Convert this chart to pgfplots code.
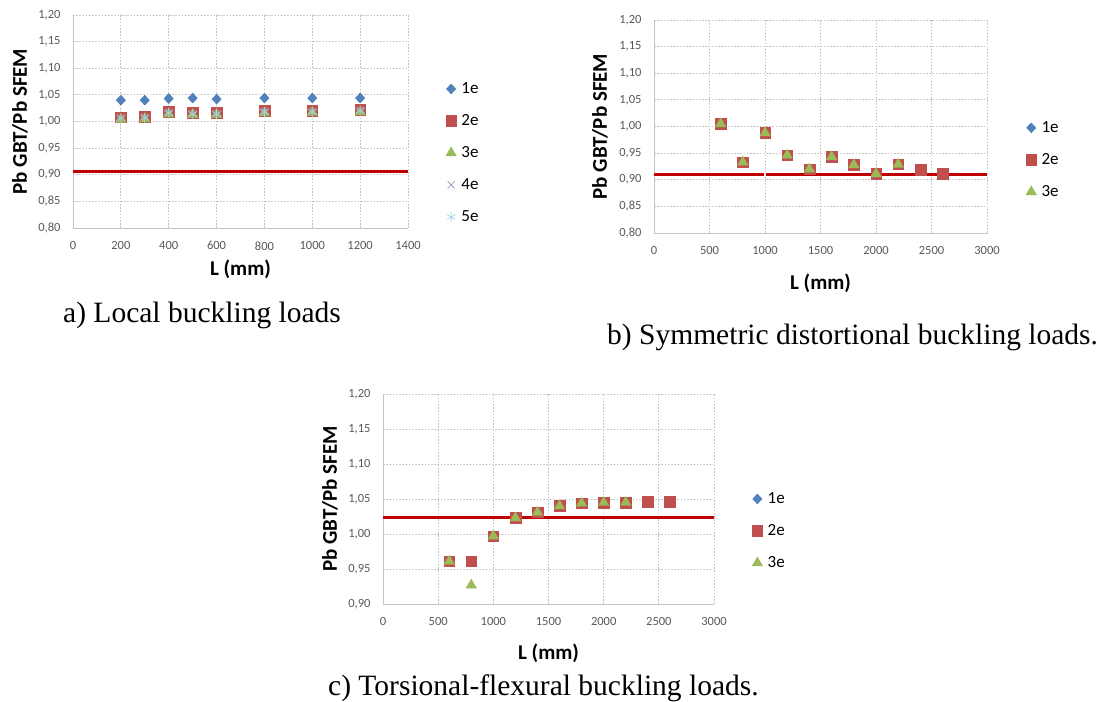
\documentclass[border=0pt]{standalone}
\usepackage{fontspec}
\setmainfont{Carlito}
\newfontfamily\capfont{Liberation Serif}
\usepackage{pgfplots}
\pgfplotsset{compat=1.18}
\definecolor{s1}{HTML}{4F81BD}
\definecolor{s2}{HTML}{C0504D}
\definecolor{s3}{HTML}{9BBB59}
\definecolor{s4}{HTML}{A99BC4}
\definecolor{s5}{HTML}{9ED6E6}
\definecolor{refred}{HTML}{C00000}
\definecolor{gridc}{HTML}{C4C4C4}
\definecolor{tickc}{HTML}{595959}

\pgfplotsset{
  panel/.style={
    scale only axis,
    axis x line*=bottom, axis y line*=left,
    axis line style={draw=gridc, line width=0.9bp},
    grid=major,
    major grid style={draw=gridc, line width=0.8bp, dash pattern=on 1.6bp off 1.6bp},
    major tick length=0pt,
    tick label style={font=\fontsize{12.5bp}{14bp}\selectfont, text=tickc},
    /pgf/number format/assume math mode=true,
    yticklabel style={/pgf/number format/fixed, /pgf/number format/fixed zerofill, /pgf/number format/precision=2, /pgf/number format/use comma, xshift=-9bp},
    xticklabel style={/pgf/number format/1000 sep={}, yshift=-10bp},
    label style={font=\bfseries\fontsize{21bp}{24bp}\selectfont},
    ylabel={Pb GBT/Pb SFEM},
    xlabel={L (mm)},
    legend cell align=left,
    legend image code/.code={\draw[mark repeat=2,mark phase=2,##1] plot coordinates {(0bp,0bp)(6bp,0bp)(12bp,0bp)};},
    legend style={draw=none, fill=none, inner sep=0pt, outer sep=0pt, anchor=north west,
      row sep=17bp, column sep=5bp, font=\fontsize{17bp}{20bp}\selectfont,
      nodes={inner sep=0pt, text height=12bp, text depth=3bp}},
  },
  m1/.style={only marks, mark=diamond*, mark size=5bp, mark options={draw=s1, fill=s1, xscale=1.25}},
  m2/.style={only marks, mark=square*, mark size=5.3bp, mark options={draw=s2, fill=s2}},
  m3/.style={only marks, mark=triangle*, mark size=6bp, mark options={draw=s3, fill=s3}},
  m4/.style={only marks, mark=x, mark size=5bp, mark options={draw=s4, line width=0.8bp}},
  m5/.style={only marks, mark=asterisk, mark size=5bp, mark options={draw=s5, line width=0.7bp}},
  refline/.style={refred, line width=3bp, no marks, forget plot},
}

\begin{document}
\begin{tikzpicture}[x=1bp,y=1bp]
\path[use as bounding box] (0,0) rectangle (1097,702);

% ---------------- a) Local ----------------
\begin{axis}[panel, at={(73bp,474bp)}, anchor=south west,
  width=335bp, height=213bp,
  xmin=0, xmax=1400, ymin=0.80, ymax=1.20,
  xtick={0,200,400,600,800,1000,1200,1400},
  ytick={0.80,0.85,0.90,0.95,1.00,1.05,1.10,1.15,1.20},
  xlabel style={at={(axis description cs:0.5,-0.192)}, anchor=center},
  ylabel style={at={(axis description cs:-0.158,0.5)}, anchor=center},
  legend style={at={(axis description cs:1.113,0.688)}},
]
\addplot[refline] coordinates {(0,0.907) (1400,0.907)};
\addplot[m1] coordinates {(200,1.040) (300,1.040) (400,1.043) (500,1.044) (600,1.042) (800,1.044) (1000,1.044) (1200,1.044)};
\addplot[m2] coordinates {(200,1.008) (300,1.009) (400,1.018) (500,1.016) (600,1.016) (800,1.020) (1000,1.020) (1200,1.022)};
\addplot[m3] coordinates {(200,1.004) (300,1.005) (400,1.014) (500,1.013) (600,1.013) (800,1.016) (1000,1.017) (1200,1.018)};
\addplot[m4] coordinates {(200,1.007) (300,1.008) (400,1.017) (500,1.015) (600,1.015) (800,1.019) (1000,1.019) (1200,1.021)};
\addplot[m5] coordinates {(200,1.006) (300,1.007) (400,1.016) (500,1.014) (600,1.014) (800,1.018) (1000,1.018) (1200,1.020)};
\legend{1e,2e,3e,4e,5e}
\end{axis}

% ---------------- b) Symmetric distortional ----------------
\begin{axis}[panel, at={(654bp,469bp)}, anchor=south west,
  width=333bp, height=213bp,
  xmin=0, xmax=3000, ymin=0.80, ymax=1.20,
  xtick={0,500,1000,1500,2000,2500,3000},
  ytick={0.80,0.85,0.90,0.95,1.00,1.05,1.10,1.15,1.20},
  xlabel style={at={(axis description cs:0.5,-0.235)}, anchor=center},
  ylabel style={at={(axis description cs:-0.162,0.5)}, anchor=center},
  legend style={at={(axis description cs:1.117,0.529)}},
]
\addplot[refline] coordinates {(0,0.909) (993,0.909)};
\addplot[refline] coordinates {(1010,0.909) (3000,0.909)};
\addplot[m1] coordinates {(600,1.005) (800,0.933) (1000,0.988) (1200,0.946) (1400,0.920) (1600,0.943) (1800,0.928) (2000,0.911) (2200,0.929)};
\addplot[m2] coordinates {(600,1.005) (800,0.933) (1000,0.988) (1200,0.946) (1400,0.920) (1600,0.943) (1800,0.928) (2000,0.911) (2200,0.929) (2400,0.919) (2600,0.911)};
\addplot[m3] coordinates {(600,1.005) (800,0.933) (1000,0.988) (1200,0.946) (1400,0.920) (1600,0.943) (1800,0.928) (2000,0.911) (2200,0.929)};
\legend{1e,2e,3e}
\end{axis}

% ---------------- c) Torsional-flexural ----------------
\begin{axis}[panel, at={(383bp,98bp)}, anchor=south west,
  width=331bp, height=210bp,
  xmin=0, xmax=3000, ymin=0.90, ymax=1.20,
  xtick={0,500,1000,1500,2000,2500,3000},
  ytick={0.90,0.95,1.00,1.05,1.10,1.15,1.20},
  xlabel style={at={(axis description cs:0.5,-0.233)}, anchor=center},
  ylabel style={at={(axis description cs:-0.160,0.5)}, anchor=center},
  legend style={at={(axis description cs:1.115,0.536)}},
]
\addplot[refline] coordinates {(0,1.024) (3000,1.024)};
\addplot[m1] coordinates {(600,0.961) (800,0.961) (1000,0.997) (1200,1.023) (1400,1.031) (1600,1.040) (1800,1.044) (2000,1.045) (2200,1.045)};
\addplot[m2] coordinates {(600,0.961) (800,0.961) (1000,0.997) (1200,1.023) (1400,1.031) (1600,1.040) (1800,1.044) (2000,1.045) (2200,1.045) (2400,1.046) (2600,1.046)};
\addplot[m3] coordinates {(600,0.961) (800,0.927) (1000,0.997) (1200,1.023) (1400,1.031) (1600,1.040) (1800,1.044) (2000,1.045) (2200,1.045)};
\legend{1e,2e,3e}
\end{axis}

% ---------------- captions ----------------
\begin{scope}[every node/.style={inner sep=0pt, anchor=base west, font=\capfont\fontsize{29.5bp}{32bp}\selectfont}]
\node at (63,379) {a) Local buckling loads};
\node at (607,357) {b) Symmetric distortional buckling loads.};
\node at (328,6) {c) Torsional-flexural buckling loads.};
\end{scope}
\end{tikzpicture}
\end{document}
